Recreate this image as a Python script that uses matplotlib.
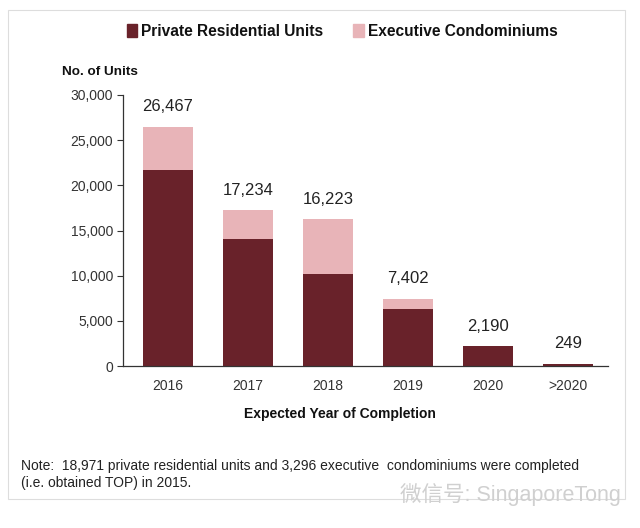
import matplotlib
matplotlib.use("Agg")
import matplotlib.pyplot as plt
from matplotlib.patches import Rectangle, Patch

plt.rcParams['font.family'] = ['Liberation Sans', 'Noto Sans CJK SC', 'DejaVu Sans']

categories = ["2016", "2017", "2018", "2019", "2020", ">2020"]
private_units = [21650, 14080, 10150, 6290, 2190, 249]
totals = [26467, 17234, 16223, 7402, 2190, 249]
ec_units = [t - p for t, p in zip(totals, private_units)]
total_labels = ["26,467", "17,234", "16,223", "7,402", "2,190", "249"]
yticks = [0, 5000, 10000, 15000, 20000, 25000, 30000]

dark = "#69222A"
pink = "#E8B4B8"

W, H = 640, 528
fig = plt.figure(figsize=(6.4, 5.28), dpi=100)
fig.patch.set_facecolor("white")
fig.patches.append(Rectangle((8/W, 1-499/H), 617/W, 489/H, transform=fig.transFigure,
                             fill=False, edgecolor="#DDDDDD", linewidth=0.8))

ax = fig.add_axes([123/W, 1-366/H, 485/W, 271/H])
x = list(range(len(categories)))
ax.bar(x, private_units, width=0.63, color=dark, zorder=2)
ax.bar(x, ec_units, bottom=private_units, width=0.63, color=pink, zorder=2)

for xi, t, lab in zip(x, totals, total_labels):
    ax.text(xi, t + 1400, lab, ha="center", va="bottom", fontsize=12, color="#222222")

ax.set_xlim(-0.5625, 5.5)
ax.set_ylim(0, 30000)
ax.set_yticks(yticks)
ax.set_yticklabels([f"{v:,}" for v in yticks])
ax.set_xticks(x)
ax.set_xticklabels(categories)
ax.tick_params(axis="both", labelsize=10, colors="#333333", length=0)
ax.tick_params(axis="y", length=4, direction="out", color="#333333", pad=3)
ax.tick_params(axis="x", pad=9)
for s in ["top", "right"]:
    ax.spines[s].set_visible(False)
for s in ["left", "bottom"]:
    ax.spines[s].set_color("#333333")
    ax.spines[s].set_linewidth(0.9)

fig.text(340/W, 1-414/H, "Expected Year of Completion", fontsize=10, fontweight="bold",
         ha="center", va="center", color="#111111")
fig.text(62/W, 1-72/H, "No. of Units", fontsize=9.7, fontweight="bold", va="center", ha="left", color="#111111")

handles = [Patch(color=dark, label="Private Residential Units"),
           Patch(color=pink, label="Executive Condominiums")]
leg = fig.legend(handles=handles, loc="center", bbox_to_anchor=(342/W, 1-31/H), ncol=2,
                 frameon=False, handlelength=0.7, handleheight=0.9, handletextpad=0.25,
                 columnspacing=1.9, prop={"size": 11.2, "weight": "bold"})
for t in leg.get_texts():
    t.set_color("#111111")

fig.text(21/W, 1-466/H,
         "Note:  18,971 private residential units and 3,296 executive  condominiums were completed",
         fontsize=10, color="#222222", va="center", ha="left")
fig.text(21/W, 1-483/H, "(i.e. obtained TOP) in 2015.",
         fontsize=10, color="#222222", va="center", ha="left")
fig.text(621/W, 1-495/H, "微信号: SingaporeTong", fontsize=15.5, color="#D0D0D0",
         va="center", ha="right")

fig.savefig("out.png", dpi=100, facecolor="white")
